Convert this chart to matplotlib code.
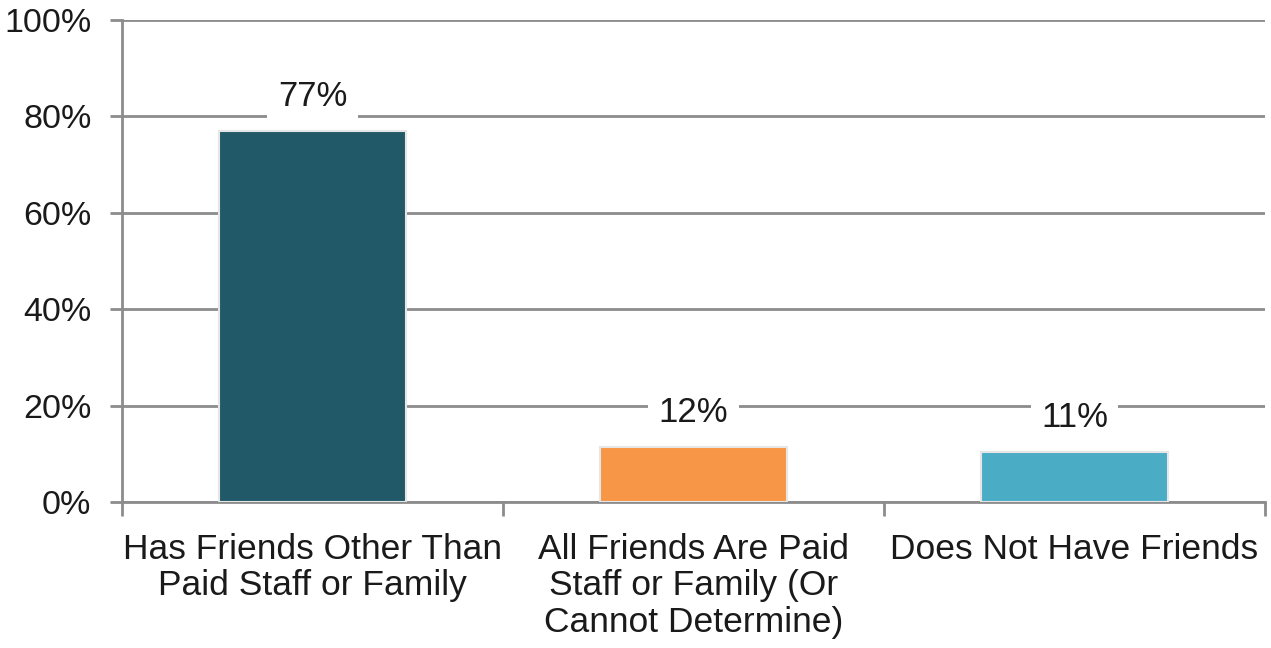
import matplotlib
matplotlib.use("Agg")
import matplotlib.pyplot as plt
import numpy as np

categories = ["Has Friends Other Than\nPaid Staff or Family",
              "All Friends Are Paid\nStaff or Family (Or\nCannot Determine)",
              "Does Not Have Friends"]
values = [77, 11.4, 10.4]
value_labels = ["77%", "12%", "11%"]
colors = ["#215968", "#F79646", "#4BACC6"]
yticks = [0, 20, 40, 60, 80, 100]

plt.rcParams['font.family'] = ['Liberation Sans', 'DejaVu Sans']

fig = plt.figure(figsize=(12.71, 6.48), dpi=100)
ax = fig.add_axes([0.096, 0.2253, 0.8993, 0.7437])

x = np.arange(len(categories))
bars = ax.bar(x, values, width=0.49, color=colors, edgecolor="#e6e6e6", linewidth=1.5, zorder=3)

ax.set_xlim(-0.5, len(categories) - 0.5)
ax.set_ylim(0, 100)
ax.set_yticks(yticks)
ax.set_yticklabels([f"{t}%" for t in yticks])
ax.yaxis.grid(True, color="#8c8c8c", linewidth=2, zorder=0)
ax.set_axisbelow(True)

ax.set_xticks(np.arange(len(categories) + 1) - 0.5, minor=False)
ax.set_xticklabels([""] * (len(categories) + 1))
ax.set_xticks(x, minor=True)
ax.set_xticklabels(categories, minor=True, fontsize=25.5, linespacing=1.15)
ax.tick_params(axis='x', which='minor', length=0, pad=22)
ax.tick_params(axis='x', which='major', length=10, width=2, color="#8c8c8c")
ax.tick_params(axis='y', length=9, width=2, color="#8c8c8c", labelsize=24.5, pad=13)
for t in ax.get_yticklabels():
    t.set_color("#1a1a1a")
for t in ax.get_xticklabels(minor=True):
    t.set_color("#1a1a1a")

for s in ["top", "right"]:
    ax.spines[s].set_visible(False)
for s in ["left", "bottom"]:
    ax.spines[s].set_color("#8c8c8c")
    ax.spines[s].set_linewidth(2)

for xi, v, lab in zip(x, values, value_labels):
    ax.annotate(lab, (xi, v), xytext=(0, 25), textcoords="offset points",
                ha="center", va="center", fontsize=25, color="#1a1a1a",
                bbox=dict(boxstyle="square,pad=0.3", fc="white", ec="none"), zorder=4)

fig.savefig("out.png", dpi=100, facecolor="white")
